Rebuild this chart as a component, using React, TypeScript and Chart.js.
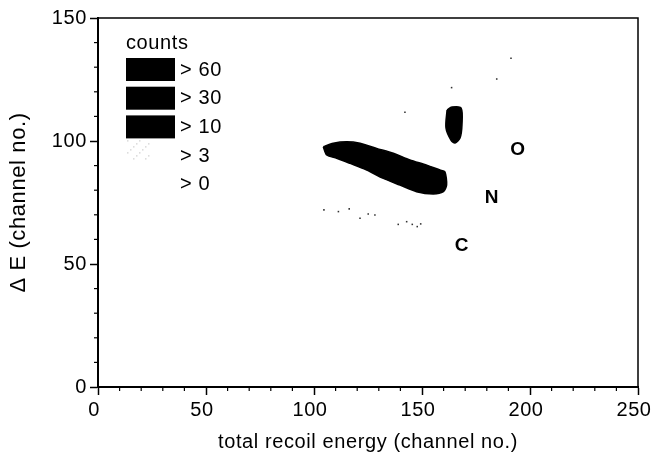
import React, { useEffect, useRef } from "react";
import { Chart, registerables } from "chart.js";
Chart.register(...registerables);

// Dense band (counts > 10) outline, data coords
const bandX = [104.3, 108.9, 115.1, 121.3, 129.0, 136.7, 144.4, 152.2, 158.3, 160.6, 161.4, 159.9, 155.2, 147.5, 139.8, 132.1, 124.4, 116.7, 110.5, 105.9, 104.3];
const bandY = [97.7, 99.1, 99.7, 99.1, 97.0, 95.0, 92.3, 90.2, 88.2, 87.5, 82.1, 79.4, 78.5, 79.4, 82.1, 84.8, 88.2, 90.9, 93.0, 94.3, 97.7];
// Upper compact blob outline
const blobX = [161.6, 163.9, 168.1, 168.5, 167.6, 165.3, 163.4, 161.1, 161.6];
const blobY = [112.6, 113.8, 113.4, 106.5, 101.2, 99.2, 100.4, 105.3, 112.6];
// Sparse single counts
const sparseX = [104.6, 111.3, 116.3, 121.3, 125.1, 128.2, 139.0, 142.9, 145.5, 147.8, 149.4, 167.3, 191.2, 184.6, 163.7, 142.1];
const sparseY = [72.0, 71.3, 72.4, 68.6, 70.3, 69.9, 66.1, 67.2, 66.1, 65.2, 66.3, 60.0, 133.6, 125.2, 121.7, 111.7];
// Element labels
const ionLabels = ["O", "N", "C"];
const ionX = [194.4, 182.4, 168.5];
const ionY = [96.3, 76.8, 57.3];
// Legend
const legendTitle = "counts";
const legendLabels = ["> 60", "> 30", "> 10", "> 3", "> 0"];
// Axes
const xMin = 0, xMax = 250, yMin = 0, yMax = 150;
const majorStep = 50, minorStep = 10;
const xTitle = "total recoil energy (channel no.)";
const yTitle = "\u0394 E (channel no.)";

const FONT = '"Liberation Sans", Arial, Helvetica, sans-serif';

function toPts(xs: number[], ys: number[]) {
  return xs.map((x, i) => ({ x, y: ys[i] }));
}

const framePlugin = {
  id: "frame",
  beforeDraw(chart: any) {
    (chart.ctx as any).letterSpacing = "0.6px";
  },
  afterDraw(chart: any) {
    const { ctx, chartArea: ca, scales } = chart;
    ctx.save();
    // frame (top & right)
    ctx.strokeStyle = "#000";
    ctx.lineWidth = 1.5;
    ctx.beginPath();
    ctx.moveTo(ca.left, ca.top);
    ctx.lineTo(ca.right, ca.top);
    ctx.lineTo(ca.right, ca.bottom);
    ctx.stroke();
    // minor ticks
    ctx.lineWidth = 1.2;
    const xs = scales.x, ys = scales.y;
    for (let v = xMin; v <= xMax; v += minorStep) {
      if (v % majorStep === 0) continue;
      const px = xs.getPixelForValue(v);
      ctx.beginPath();
      ctx.moveTo(px, ca.bottom);
      ctx.lineTo(px, ca.bottom + 4);
      ctx.stroke();
    }
    for (let v = yMin; v <= yMax; v += minorStep) {
      if (v % majorStep === 0) continue;
      const py = ys.getPixelForValue(v);
      ctx.beginPath();
      ctx.moveTo(ca.left, py);
      ctx.lineTo(ca.left - 4, py);
      ctx.stroke();
    }
    // element labels
    ctx.fillStyle = "#000";
    ctx.font = "bold 19px " + FONT;
    ctx.textAlign = "center";
    ctx.textBaseline = "middle";
    ionLabels.forEach((t, i) => {
      ctx.fillText(t, xs.getPixelForValue(ionX[i]), ys.getPixelForValue(ionY[i]));
    });
    // legend
    const lx = ca.left + 28;
    const ty = ca.top + 40;
    const step = 28.7;
    ctx.textAlign = "left";
    ctx.font = "20px " + FONT;
    ctx.fillText(legendTitle, lx, ca.top + 25);
    legendLabels.forEach((t, i) => {
      const by = ty + i * step;
      if (i < 3) {
        ctx.fillStyle = "#000";
        ctx.fillRect(lx, by, 49, 23);
      } else if (i === 3) {
        ctx.fillStyle = "rgba(0,0,0,0.15)";
        for (let a = 0; a < 24; a += 3) {
          for (let b = 0; b < 20; b += 3) {
            if ((a * 7 + b * 3) % 4 === 0) ctx.fillRect(lx + 1 + a, by - 4 + b, 1.5, 1.5);
          }
        }
      }
      ctx.fillStyle = "#000";
      ctx.fillText(t, lx + 54, by + 12);
    });
    ctx.restore();
    (ctx as any).letterSpacing = "0px";
  },
};

export default function App() {
  const ref = useRef<HTMLCanvasElement | null>(null);
  useEffect(() => {
    document.body.style.margin = "0";
    const canvas = ref.current!;
    const chart = new Chart(canvas, {
      type: "scatter",
      data: {
        datasets: [
          {
            data: toPts(bandX, bandY),
            showLine: true,
            fill: "shape" as any,
            backgroundColor: "#000",
            borderColor: "#000",
            borderWidth: 1.5,
            pointRadius: 0,
            tension: 0.25,
          },
          {
            data: toPts(blobX, blobY),
            showLine: true,
            fill: "shape" as any,
            backgroundColor: "#000",
            borderColor: "#000",
            borderWidth: 1.5,
            pointRadius: 0,
            tension: 0.3,
          },
          {
            data: toPts(sparseX, sparseY),
            showLine: false,
            pointStyle: "rect",
            pointRadius: 1.1,
            backgroundColor: "#333",
            borderWidth: 0,
          },
        ],
      },
      options: {
        animation: false,
        responsive: false,
        devicePixelRatio: 1,
        layout: { padding: { left: 0, right: 15, top: 18, bottom: 0 } },
        plugins: { legend: { display: false }, tooltip: { enabled: false } },
        scales: {
          x: {
            type: "linear",
            min: xMin,
            max: xMax,
            ticks: { stepSize: majorStep, color: "#000", font: { family: FONT, size: 20 }, padding: 3, maxRotation: 0, labelOffset: -4 },
            grid: { drawOnChartArea: false, drawTicks: true, tickLength: 8, tickColor: "#000", tickWidth: 1.5 },
            border: { display: true, color: "#000", width: 2 },
            title: { display: true, text: xTitle, color: "#000", font: { family: FONT, size: 20 }, padding: { top: 4, bottom: 4 } },
            afterFit(scale: any) {
              scale.height = 71;
              scale.paddingLeft = 0;
              scale.paddingRight = 0;
            },
          },
          y: {
            type: "linear",
            min: yMin,
            max: yMax,
            ticks: { stepSize: majorStep, color: "#000", font: { family: FONT, size: 20 }, padding: 3 },
            grid: { drawOnChartArea: false, drawTicks: true, tickLength: 8, tickColor: "#000", tickWidth: 1.5 },
            border: { display: true, color: "#000", width: 2 },
            title: { display: true, text: yTitle, color: "#000", font: { family: FONT, size: 22 }, padding: { top: 6, bottom: 6 } },
            afterFit(scale: any) {
              scale.width = 98;
              scale.paddingTop = 0;
              scale.paddingBottom = 0;
            },
          },
        },
      },
      plugins: [framePlugin],
    });
    return () => chart.destroy();
  }, []);
  return <canvas ref={ref} width={653} height={458} style={{ display: "block" }} />;
}
